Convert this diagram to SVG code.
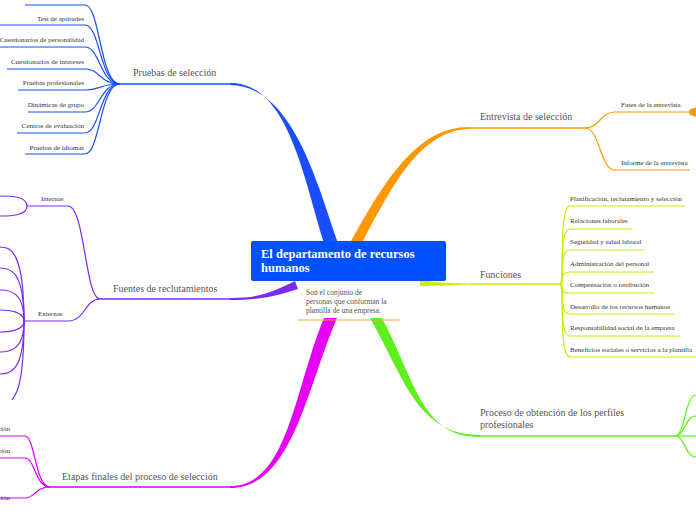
<svg xmlns="http://www.w3.org/2000/svg" width="696" height="520" viewBox="0 0 696 520">
<style>
.t{font-family:"Liberation Serif",serif;fill:#333}
.s{font-size:7px}
.m{font-size:10px;fill:#555}
.c{fill:none;stroke-width:1.2}
.b{stroke:#1a4dff}.p{stroke:#7a2cf5}.g{stroke:#d500f5}.o{stroke:#ff9800}.y{stroke:#c6f000}.n{stroke:#5ef01e}
.r{text-anchor:end}
</style>
<rect width="696" height="520" fill="#fff"/>
<g id="connectors">
<path d="M324 243 C304 180,288 82,230 83 L230 85 C292 86,316 180,338 243 Z" fill="#1a4dff"/>
<path d="M230 84 L120 84" class="c b" style="stroke-width:1.5"/>
<path d="M350 243 C385 180,418 126,470 127 L470 129 C422 130,395 180,362 243 Z" fill="#ff9800"/>
<path d="M470 128 L585 128" class="c o" style="stroke-width:1.5"/>
<path d="M420 280 C440 283,450 283,470 283.5 L470 284.5 C450 285,440 286,420 286Z" fill="#c6f000"/>
<path d="M470 284 L560 284" class="c y" style="stroke-width:1.5"/>
<path d="M370 318 C405 380,418 435,480 435 L480 437 C422 438,415 380,382 318 Z" fill="#5ef01e"/>
<path d="M480 436 L675 436" class="c n" style="stroke-width:1.5"/>
<path d="M324 318 C294 390,288 486,230 486 L230 488 C292 488,306 390,337 318 Z" fill="#e600f5"/>
<path d="M230 487 L50 487" class="c g" style="stroke-width:1.5"/>
<path d="M295 281 C270 293,260 298,230 298 L230 300 C262 300,275 296,298 289 Z" fill="#7a2cf5"/>
<path d="M230 299 L100 299" class="c p" style="stroke-width:1.5"/>
<g class="c b">
<path d="M120 84 C100 84,100 5,85 5 L25 5"/>
<path d="M120 84 C100 84,100 25,85 25 L0 25"/>
<path d="M120 84 C100 84,100 47,85 47 L0 47"/>
<path d="M120 84 C100 84,100 69,85 69 L7 69"/>
<path d="M120 84 C100 84,100 90,85 90 L18 90"/>
<path d="M120 84 C100 84,100 112,85 112 L28 112"/>
<path d="M120 84 C100 84,100 133,85 133 L17 133"/>
<path d="M120 84 C100 84,100 154,85 154 L25 154"/>
</g>
<g class="c p">
<path d="M100 299 C85 299,85 206,68 206 L27 206"/>
<path d="M100 299 C85 299,85 321,68 321 L24 321"/>
<path d="M27 206 C27 196,10 196,0 196"/>
<path d="M27 206 C27 216,10 216,0 216"/>
<path d="M24 321 C24 250,10 247,0 247"/>
<path d="M24 321 C24 270,10 268,0 268"/>
<path d="M24 321 C24 292,10 290,0 290"/>
<path d="M24 321 C24 312,10 310,0 310"/>
<path d="M24 321 C24 330,10 332,0 332"/>
<path d="M24 321 C24 350,10 352,0 352"/>
<path d="M24 321 C24 372,10 374,0 374"/>
<path d="M24 321 C24 390,15 395,12 400"/>
</g>
<g class="c g">
<path d="M50 487 C35 487,35 436,25 436 L0 436"/>
<path d="M50 487 C35 487,35 458,25 458 L0 458"/>
<path d="M50 487 C35 487,35 498,25 498 L0 498"/>
</g>
<g class="c o">
<path d="M585 128 C600 128,600 112,615 112 L690 112"/>
<path d="M585 128 C600 128,600 170,615 170 L690 170"/>
<path d="M690 110 L696 108 L696 116 L690 114Z" fill="#ff9800"/>
</g>
<g class="c y">
<path d="M560 284 C565 284,558 206,570 206 L685 206"/>
<path d="M560 284 C565 284,558 229,570 229 L632 229"/>
<path d="M560 284 C565 284,558 250,570 250 L645 250"/>
<path d="M560 284 C565 284,558 272,570 272 L654 272"/>
<path d="M560 284 C565 284,558 293,570 293 L654 293"/>
<path d="M560 284 C565 284,558 314,570 314 L675 314"/>
<path d="M560 284 C565 284,558 336,570 336 L680 336"/>
<path d="M560 284 C565 284,558 357,570 357 L696 357"/>
</g>
<g class="c n">
<path d="M675 436 C685 436,685 395,696 395"/>
<path d="M675 436 C685 436,685 416,696 416"/>
<path d="M675 436 L696 436"/>
<path d="M675 436 C685 436,685 457,696 457"/>
</g>
</g>
<g id="center">
<rect x="251" y="241" width="195" height="40" rx="2" fill="#0050ff"/>
<text x="261" y="258" style="font-family:'Liberation Serif',serif;font-size:12.5px;font-weight:bold;fill:#fff">El departamento de recursos</text>
<text x="261" y="272" style="font-family:'Liberation Serif',serif;font-size:12.5px;font-weight:bold;fill:#fff">humanos</text>
<text class="t" x="306" y="295" style="font-size:7.5px;fill:#555">Son el conjunto de</text>
<text class="t" x="306" y="304" style="font-size:7.5px;fill:#555">personas que conforman la</text>
<text class="t" x="306" y="313" style="font-size:7.5px;fill:#555">plantilla de una empresa.</text>
<line x1="298" y1="320" x2="400" y2="320" stroke="#ffa040" stroke-width="1"/>
</g>
<g id="pruebas"><text class="t m" x="133" y="76">Pruebas de selección</text>
<text class="t s r" x="84" y="21">Test de aptitudes</text>
<text class="t s r" x="84" y="42">Cuestionarios de personalidad</text>
<text class="t s r" x="84" y="64">Cuestionarios de intereses</text>
<text class="t s r" x="84" y="85">Pruebas profesionales</text>
<text class="t s r" x="84" y="107">Dinámicas de grupo</text>
<text class="t s r" x="84" y="128">Centros de evaluación</text>
<text class="t s r" x="84" y="150">Pruebas de idiomas</text></g>
<g id="fuentes"><text class="t m" x="113" y="292">Fuentes de reclutamientos</text>
<text class="t s" x="41" y="201">Internas</text>
<text class="t s" x="38" y="316">Externas</text></g>
<g id="etapas"><text class="t m" x="62" y="480">Etapas finales del proceso de selección</text>
<text class="t s" x="-2" y="431">ción</text>
<text class="t s" x="-2" y="453">ción</text>
<text class="t s" x="-2" y="500">ción</text></g>
<g id="entrevista"><text class="t m" x="480" y="120">Entrevista de selección</text>
<text class="t s" x="621" y="107">Fases de la entrevista</text>
<text class="t s" x="621" y="165">Informe de la entrevista</text></g>
<g id="funciones"><text class="t m" x="480" y="278">Funciones</text>
<text class="t s" x="570" y="201">Planificación, reclutamiento y selección</text>
<text class="t s" x="570" y="223">Relaciones laborales</text>
<text class="t s" x="570" y="244">Seguridad y salud laboral</text>
<text class="t s" x="570" y="266">Administración del personal</text>
<text class="t s" x="570" y="287">Compensación o retribución</text>
<text class="t s" x="570" y="309">Desarrollo de los recursos humanos</text>
<text class="t s" x="570" y="330">Responsabilidad social de la empresa</text>
<text class="t s" x="570" y="352">Beneficios sociales o servicios a la plantilla</text></g>
<g id="proceso"><text class="t m" x="480" y="416">Proceso de obtención de los perfiles</text>
<text class="t m" x="480" y="428">profesionales</text></g>
</svg>
